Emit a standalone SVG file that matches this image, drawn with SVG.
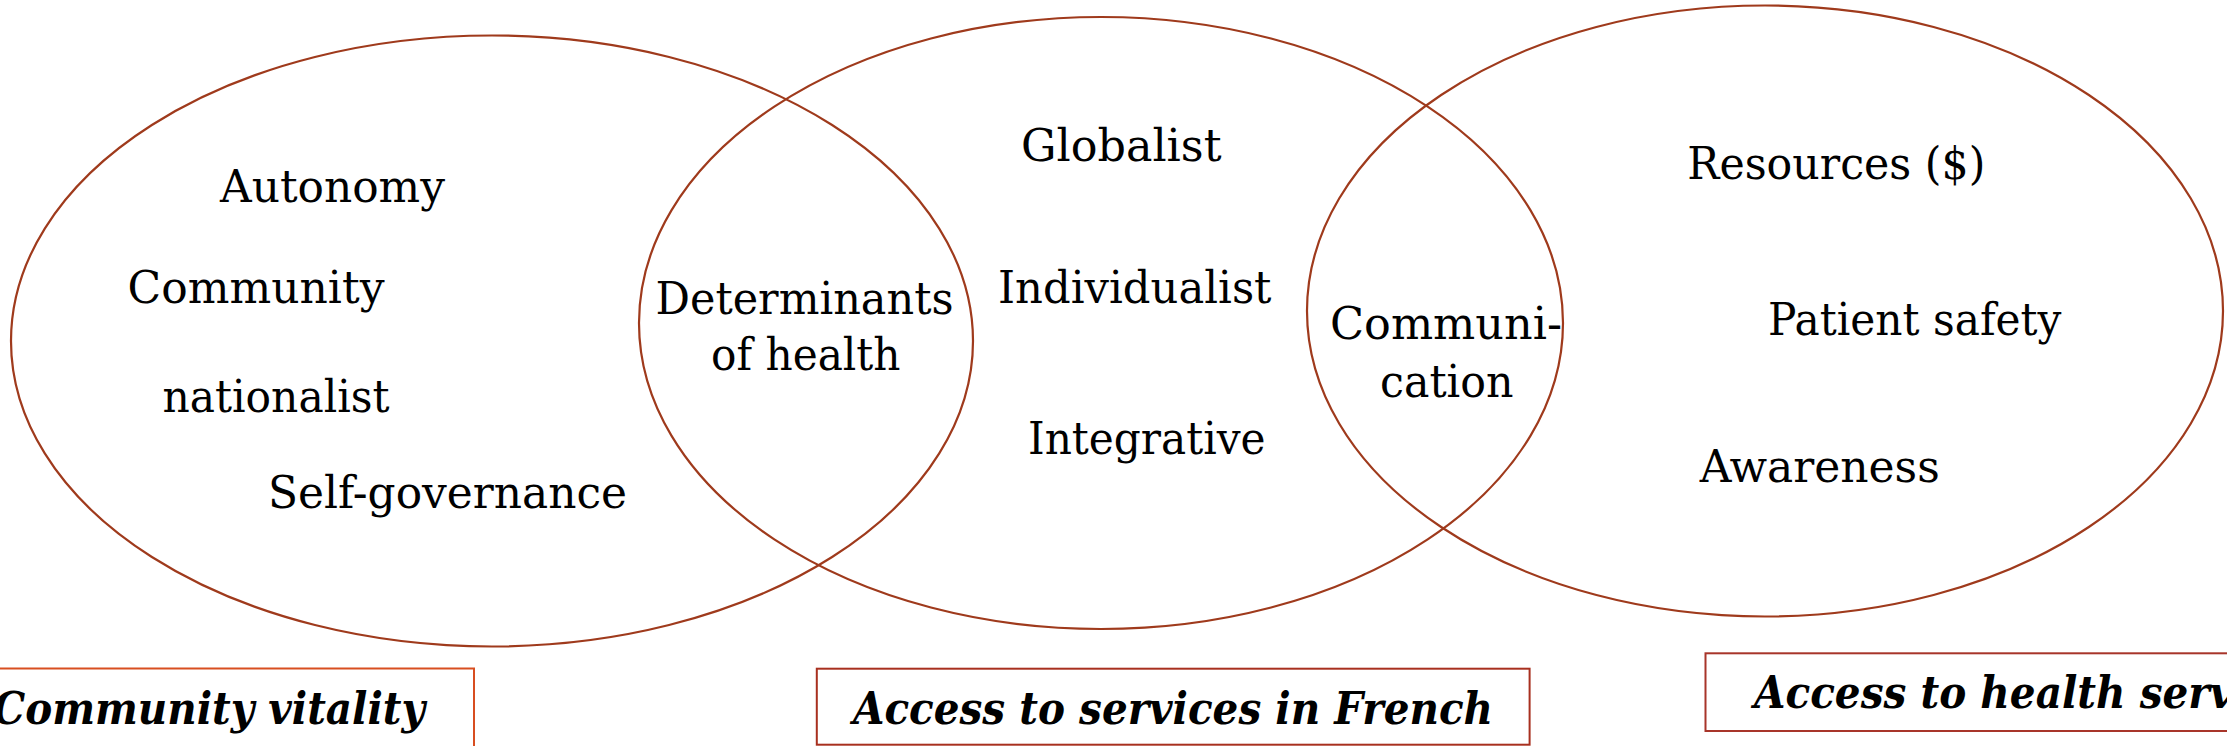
<svg xmlns="http://www.w3.org/2000/svg" width="2227" height="746" viewBox="0 0 2227 746">
<style>
.ell{fill:none;stroke:#9F3A1C;stroke-width:2.2}
.t{font-family:"DejaVu Serif","Liberation Serif",serif;font-size:44px;fill:#000}
.b{font-family:"DejaVu Serif","Liberation Serif",serif;font-size:44px;font-weight:bold;font-style:italic;fill:#000}
.box{fill:#fff;stroke-width:2}
</style>
<rect x="0" y="0" width="2227" height="746" fill="#fff"/>
<g id="connectors"></g>
<g id="circle-community-vitality">
<ellipse class="ell" cx="492" cy="341" rx="481" ry="305.5"/>
</g>
<g id="circle-french-services">
<ellipse class="ell" cx="1101" cy="323" rx="462" ry="306"/>
</g>
<g id="circle-health-services">
<ellipse class="ell" cx="1765" cy="311" rx="458" ry="305.5"/>
</g>
<g id="labels-community">
<text class="t" x="220" y="202" textLength="225" lengthAdjust="spacingAndGlyphs">Autonomy</text>
<text class="t" x="127.5" y="303" textLength="257" lengthAdjust="spacingAndGlyphs">Community</text>
<text class="t" x="162.5" y="411.7" textLength="227" lengthAdjust="spacingAndGlyphs">nationalist</text>
<text class="t" x="268" y="507.7" textLength="359" lengthAdjust="spacingAndGlyphs">Self-governance</text>
</g>
<g id="labels-determinants">
<text class="t" x="655.5" y="313.5" textLength="298" lengthAdjust="spacingAndGlyphs">Determinants</text>
<text class="t" x="711" y="369.5" textLength="189.5" lengthAdjust="spacingAndGlyphs">of health</text>
</g>
<g id="labels-french">
<text class="t" x="1021" y="161" textLength="200.5" lengthAdjust="spacingAndGlyphs">Globalist</text>
<text class="t" x="998" y="302.7" textLength="273.5" lengthAdjust="spacingAndGlyphs">Individualist</text>
<text class="t" x="1028" y="454" textLength="237.5" lengthAdjust="spacingAndGlyphs">Integrative</text>
</g>
<g id="labels-communication">
<text class="t" x="1330" y="339.2" textLength="232" lengthAdjust="spacingAndGlyphs">Communi-</text>
<text class="t" x="1380" y="396.5" textLength="133.5" lengthAdjust="spacingAndGlyphs">cation</text>
</g>
<g id="labels-health">
<text class="t" x="1687.3" y="179" textLength="298" lengthAdjust="spacingAndGlyphs">Resources ($)</text>
<text class="t" x="1768" y="335" textLength="293.5" lengthAdjust="spacingAndGlyphs">Patient safety</text>
<text class="t" x="1699.7" y="481.7" textLength="240" lengthAdjust="spacingAndGlyphs">Awareness</text>
</g>
<g id="box-community-vitality">
<rect class="box" x="-10" y="668.5" width="484" height="90" stroke="#D84E20"/>
<text class="b" x="-7" y="724" textLength="432" lengthAdjust="spacingAndGlyphs">Community vitality</text>
</g>
<g id="box-access-french">
<rect class="box" x="816.8" y="668.7" width="712.8" height="76" stroke="#A8301F"/>
<text class="b" x="853" y="724.3" textLength="640" lengthAdjust="spacingAndGlyphs">Access to services in French</text>
</g>
<g id="box-access-health">
<rect class="box" x="1705.5" y="653.3" width="600" height="77.7" stroke="#A8352A"/>
<text class="b" x="1754" y="707.7" textLength="568" lengthAdjust="spacingAndGlyphs">Access to health services</text>
</g>
</svg>
